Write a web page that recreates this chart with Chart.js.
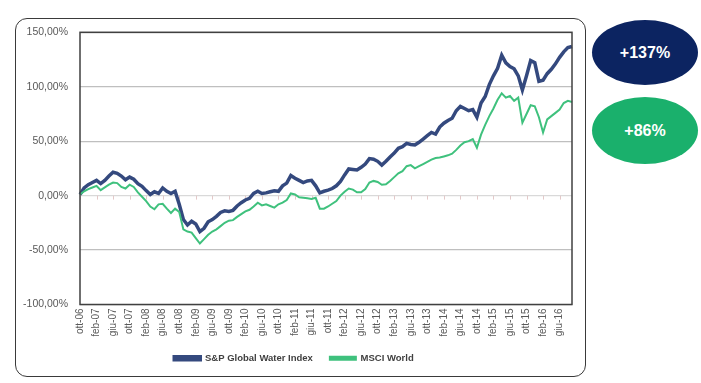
<!DOCTYPE html>
<html>
<head>
<meta charset="utf-8">
<script src="https://cdn.jsdelivr.net/npm/chart.js@4.4.1/dist/chart.umd.min.js"></script>
<style>
  html, body { margin: 0; padding: 0; background: #ffffff; }
  body { width: 701px; height: 383px; position: relative; overflow: hidden; font-family: "Liberation Sans", Arial, sans-serif; }
  #panel { position: absolute; left: 15px; top: 18px; width: 569px; height: 357px; border: 1px solid #3a3a3a; border-radius: 12px; background: #fff; }
  #wrap { position: absolute; left: 16px; top: 14px; width: 568px; height: 361px; }
  .badge { position: absolute; left: 592px; width: 106px; border-radius: 50%; color: #fff; font-weight: bold; font-size: 16px; display: flex; align-items: center; justify-content: center; font-family: "Liberation Sans", Arial, sans-serif; }
  #b1 { top: 20px; height: 65px; background: #0c2461; }
  #b2 { top: 97px; height: 67px; background: #1ab06c; }
</style>
</head>
<body>
<div id="panel"></div>
<div id="wrap"><canvas id="c"></canvas></div>
<div class="badge" id="b1">+137%</div>
<div class="badge" id="b2">+86%</div>
<script>
// Monthly categories from ott-06 to set-16
const monthNames = ["gen","feb","mar","apr","mag","giu","lug","ago","set","ott","nov","dic"];
const categories = [];
for (let i = 0; i < 120; i++) {
  const mIdx = (9 + i) % 12;
  const yr = 6 + Math.floor((9 + i) / 12);
  categories.push(monthNames[mIdx] + "-" + String(yr).padStart(2, "0"));
}

const seriesNames = ["S&P Global Water Index", "MSCI World"];

const waterIndex = [
  1, 7, 10, 12, 14, 11, 14, 18, 21.5, 20.5, 18, 14.5, 17, 15, 11, 8.5, 4.6, 1, 3.5, 2,
  7, 4, 2, 4, -8, -22, -27, -23.5, -26, -33, -30, -24, -22, -19, -15.5, -14, -14.5, -13.5, -9.5, -6.5,
  -4, -2.5, 2, 4, 2, 2.5, 3.5, 4.5, 4, 9, 11.5, 18.5, 16, 14, 12, 13.5, 14, 9, 2.5, 4,
  5, 6.5, 9, 13, 19, 24.5, 24, 23.5, 26, 29, 34, 33.5, 31.5, 28, 31.5, 35.5, 39, 43.5, 45, 48,
  47, 46.5, 49, 52, 55, 58, 56.5, 63, 66.5, 69, 71, 78, 82, 80, 78, 79, 72, 85, 91, 102,
  110, 117, 129, 122, 118.5, 116.5, 110, 97, 110, 124, 122, 105, 106, 112, 116, 121, 127, 132, 136, 137
];

const msciWorld = [
  1, 4, 6, 7.5, 9, 5, 7.5, 10, 12, 11.5, 8, 6.5, 10, 8, 3, -1, -5, -10, -12.5, -8,
  -7.5, -12, -16, -12, -15, -31, -33, -34, -39, -44, -40, -36, -33, -31, -28, -25, -23, -22.5, -19.5, -17,
  -14.5, -13, -10, -6.5, -9, -8, -9.5, -11, -8, -6.5, -4, 2, 1, -1.5, -2, -2.5, -3, -2, -12, -12,
  -10, -7.5, -5, 0, 3.5, 6.5, 5.5, 3, 3, 6, 12, 13.5, 12.5, 10, 10.5, 13.5, 17, 20.5, 22.5, 27,
  28, 25, 27, 29, 31, 33, 34.5, 35, 36, 37, 38.5, 42, 46, 49, 50, 52, 44, 56, 65, 73,
  80, 88, 94, 90, 91.5, 87, 90, 67, 75, 83, 82, 72, 58, 70, 73, 76, 79, 85, 87, 86
];

const yTicks = [-100, -50, 0, 50, 100, 150];
const labelEvery = 4;

const frameAndTicks = {
  id: "frameAndTicks",
  beforeDatasetsDraw(chart) {
    const { ctx, scales } = chart;
    const y0 = scales.y.getPixelForValue(0);
    ctx.save();
    ctx.strokeStyle = "#e3c9c9";
    ctx.lineWidth = 1;
    for (let i = 0; i < categories.length; i += labelEvery) {
      const x = Math.round(scales.x.getPixelForValue(i)) + 0.5;
      ctx.beginPath();
      ctx.moveTo(x, y0);
      ctx.lineTo(x, y0 + 4);
      ctx.stroke();
    }
    ctx.restore();
  },
  afterDraw(chart) {
    const { ctx, chartArea } = chart;
    ctx.save();
    ctx.strokeStyle = "#404040";
    ctx.lineWidth = 1.5;
    ctx.strokeRect(chartArea.left, chartArea.top, chartArea.right - chartArea.left, chartArea.bottom - chartArea.top);
    ctx.restore();
  }
};

new Chart(document.getElementById("c"), {
  type: "line",
  data: {
    labels: categories,
    datasets: [
      { label: seriesNames[0], data: waterIndex, borderColor: "#34497e", backgroundColor: "#34497e", borderWidth: 3.5, pointRadius: 0, tension: 0, fill: false, order: 2 },
      { label: seriesNames[1], data: msciWorld, borderColor: "#3fc17d", backgroundColor: "#3fc17d", borderWidth: 2, pointRadius: 0, tension: 0, fill: false, order: 1 }
    ]
  },
  options: {
    responsive: true,
    maintainAspectRatio: false,
    animation: false,
    devicePixelRatio: 1,
    layout: { padding: { left: 0, right: 12, top: 8, bottom: 2 } },
    plugins: {
      legend: {
        position: "bottom",
        labels: {
          boxWidth: 26, boxHeight: 3, padding: 17, color: "#404040",
          font: { family: "'Liberation Sans', Arial, sans-serif", size: 9.5, weight: "bold" },
          sort: (a, b) => a.datasetIndex - b.datasetIndex
        }
      },
      tooltip: { enabled: false }
    },
    scales: {
      x: {
        type: "category",
        offset: false,
        grid: { display: false, drawTicks: false },
        border: { display: false },
        ticks: {
          autoSkip: false, minRotation: 90, maxRotation: 90, padding: 4, color: "#595959",
          font: { family: "'Liberation Sans', Arial, sans-serif", size: 10 },
          callback: (v, i) => (i % labelEvery === 0 ? categories[i] : null)
        },
        afterFit: (s) => { s.height = 32; }
      },
      y: {
        min: -100, max: 150,
        afterBuildTicks: (s) => { s.ticks = yTicks.map(v => ({ value: v })); },
        grid: {
          drawTicks: false,
          color: (c) => (c.tick && c.tick.value === 0 ? "#d9d9d9" : "#bfbfbf"),
          lineWidth: 1.2
        },
        border: { display: false },
        ticks: {
          padding: 12, color: "#595959",
          font: { family: "'Liberation Sans', Arial, sans-serif", size: 10.5 },
          callback: (v) => v.toFixed(2).replace(".", ",") + "%"
        },
        afterFit: (s) => { s.width = 64; }
      }
    }
  },
  plugins: [frameAndTicks]
});
</script>
</body>
</html>
